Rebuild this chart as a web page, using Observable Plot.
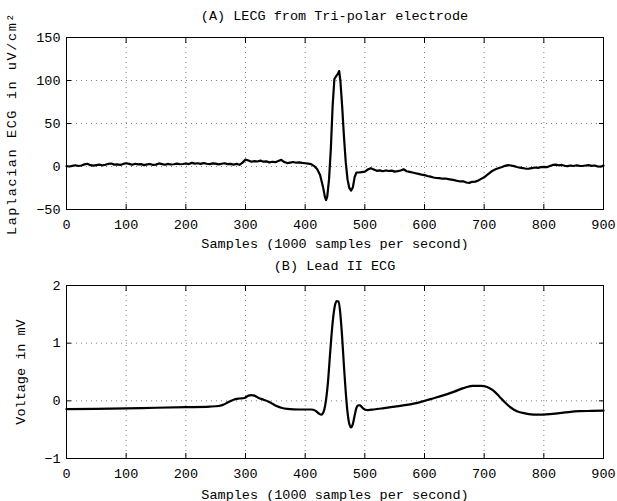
<!DOCTYPE html>
<html><head><meta charset="utf-8">
<script src="https://cdn.jsdelivr.net/npm/d3@7"></script>
<script src="https://cdn.jsdelivr.net/npm/@observablehq/plot@0.6"></script>
<style>
body{margin:0;background:#fff;}
#wrap{position:relative;width:617px;height:501px;background:#fff;font-family:"Liberation Mono","DejaVu Sans Mono",monospace;}
.ttl{position:absolute;left:66px;width:537px;text-align:center;font-size:13.5px;color:#000;z-index:2;line-height:16px;}
.pl{position:absolute;left:0;z-index:1;}
</style></head><body>
<div id="wrap">
  <div class="pl" id="p1" style="top:0"></div>
  <div class="pl" id="p2" style="top:250px"></div>
  <div class="ttl" id="t1" style="top:9px"></div>
  <div class="ttl" id="t2" style="top:259px"></div>
</div>
<script>
const titleA = "(A) LECG from Tri-polar electrode";
const titleB = "(B) Lead II ECG";
const xLabel = "Samples (1000 samples per second)";
const yLabelA = "Laplacian ECG in uV/cm²";
const yLabelB = "Voltage in mV";
const xTicks = [0,100,200,300,400,500,600,700,800,900];
const yTicksA = [-50,0,50,100,150];
const yTicksB = [-1,0,1,2];

const lecgPoints = [
[0,0.5],[5,0],[10,0.8],[15,1.5],[20,0.6],[25,1.2],[30,2.5],[35,3.2],[40,1.5],[45,1.0],
[50,1.6],[55,2.2],[60,1.4],[65,2.0],[70,3.0],[75,3.5],[80,2.2],[85,2.5],[90,1.8],[95,3.0],
[100,3.8],[105,3.0],[110,2.0],[115,3.2],[120,2.4],[125,2.8],[130,1.6],[135,2.4],[140,2.9],[145,1.8],
[150,2.2],[155,3.6],[160,2.8],[165,2.0],[170,3.0],[175,2.3],[180,2.6],[185,3.4],[190,2.6],[195,2.9],
[200,3.5],[205,2.8],[210,4.2],[215,3.4],[220,3.8],[225,3.0],[230,4.0],[235,3.2],[240,2.8],[245,3.6],
[250,3.4],[255,2.5],[260,3.2],[265,3.8],[270,2.8],[275,3.0],[280,2.2],[285,3.0],[290,2.0],[295,4.5],
[300,8.0],[305,7.0],[310,5.5],[315,6.2],[320,5.8],[325,6.8],[330,5.6],[335,6.0],[340,4.8],[345,5.5],
[350,5.0],[355,6.4],[360,7.8],[365,5.2],[370,4.0],[375,4.6],[380,5.2],[385,4.4],[390,4.8],[395,4.2],
[400,3.8],[405,3.4],[410,2.8],[415,0.5],[420,-3],[425,-10],[430,-24],[433,-35],[435,-39],[437,-35],
[440,-15],[443,20],[446,70],[449,102],[452,105],[455,108],[457,111],[459,100],[462,70],[465,35],
[468,5],[471,-15],[474,-25],[477,-28],[480,-24],[483,-12],[486,-7],[490,-7],[495,-6.5],[500,-6],
[505,-3.5],[510,-2],[515,-3.5],[520,-5],[525,-4.5],[530,-5.5],[535,-4.6],[540,-5.2],[545,-4.8],[550,-6],
[555,-5.4],[560,-4.6],[565,-3.2],[570,-5.5],[575,-6.2],[580,-7],[585,-7.8],[590,-8.6],[595,-9.4],[600,-10],
[605,-11],[610,-11.8],[615,-12.8],[620,-13.4],[625,-13.6],[630,-14.2],[635,-14],[640,-14.6],[645,-15.2],[650,-15.8],
[655,-16.8],[660,-17.4],[665,-17.2],[670,-18.6],[675,-19],[680,-17.8],[685,-17.6],[690,-16.2],[695,-14.4],[700,-12.6],
[705,-9.8],[710,-7],[715,-4.6],[720,-3],[725,-1.8],[730,-0.6],[735,0.8],[740,1.6],[745,1.2],[750,0.4],
[755,-0.6],[760,-1.4],[765,-1.8],[770,-2.6],[775,-2.4],[780,-1.8],[785,-1.2],[790,-1.6],[795,-0.8],[800,-0.4],
[805,-0.8],[810,0.6],[815,1.8],[820,2.2],[825,1.4],[830,1.8],[835,0.8],[840,0.4],[845,1.2],[850,0.6],
[855,1.4],[860,0.8],[865,0.6],[870,1.2],[875,1.6],[880,0.8],[885,1.2],[890,0.2],[895,-0.2],[900,1.0]
];

const leadPoints = [
[0,-0.145],[50,-0.14],[100,-0.13],[150,-0.12],[200,-0.11],[240,-0.1],[255,-0.09],[262,-0.07],[270,-0.03],[280,0.02],
[290,0.04],[298,0.05],[305,0.09],[310,0.1],[315,0.09],[322,0.05],[330,0.02],[338,-0.01],[345,-0.05],[352,-0.09],
[360,-0.12],[370,-0.14],[390,-0.15],[410,-0.15],[417,-0.17],[423,-0.22],[427,-0.24],[430,-0.21],[434,-0.05],[438,0.3],
[442,0.85],[446,1.35],[450,1.66],[453,1.73],[456,1.72],[459,1.5],[462,1.1],[465,0.6],[468,0.15],[471,-0.2],
[474,-0.4],[477,-0.46],[480,-0.4],[483,-0.25],[486,-0.12],[489,-0.08],[492,-0.08],[496,-0.12],[500,-0.15],[505,-0.16],
[515,-0.15],[530,-0.13],[550,-0.1],[570,-0.07],[590,-0.03],[610,0.03],[630,0.09],[650,0.16],[665,0.22],[680,0.26],
[695,0.26],[705,0.24],[715,0.18],[725,0.08],[735,-0.03],[745,-0.12],[755,-0.18],[765,-0.21],[775,-0.23],[790,-0.24],
[810,-0.23],[830,-0.21],[845,-0.19],[860,-0.18],[880,-0.175],[900,-0.17]
];

const font = '"Liberation Mono","DejaVu Sans Mono",monospace';

function panel(points, yDomain, yTicks, yLabel, opts) {
  const blank = () => "";
  const svg = Plot.plot({
    width: 617, height: opts.height,
    marginLeft: 66, marginRight: 14, marginTop: opts.mt, marginBottom: opts.mb,
    style: {fontFamily: font, fontSize: "13.5px", background: "#fff", color: "#000"},
    x: {domain: [0, 900]},
    y: {domain: yDomain},
    marks: [
      Plot.gridX(xTicks, {stroke: "#000", strokeOpacity: 0.5, strokeDasharray: "1,4"}),
      Plot.gridY(yTicks, {stroke: "#000", strokeOpacity: 0.5, strokeDasharray: "1,4"}),
      Plot.axisX(xTicks, {anchor: "bottom", tickSize: -5, tickPadding: 15, tickFormat: d => String(d),
        label: xLabel, labelAnchor: "center", labelArrow: "none", labelOffset: opts.xlo, fontSize: 13.5}),
      Plot.axisX(xTicks, {anchor: "top", tickSize: -5, tickFormat: blank, label: null}),
      Plot.axisY(yTicks, {anchor: "left", tickSize: -5, tickPadding: 11, tickFormat: d => d < 0 ? "\u2212" + Math.abs(d) : String(d),
        label: yLabel, labelAnchor: "center", labelArrow: "none", labelOffset: opts.ylo, fontSize: 13.5}),
      Plot.axisY(yTicks, {anchor: "right", tickSize: -5, tickFormat: blank, label: null}),
      Plot.lineY(points, {x: d => d[0], y: d => d[1], stroke: "#000", strokeWidth: 2.2, curve: opts.curve}),
      Plot.frame({stroke: "#000", strokeWidth: 1})
    ]
  });
  if (opts.ls) d3.select(svg).selectAll("[aria-label='y-axis label'] text").style("letter-spacing", opts.ls);
  return svg;
}

document.getElementById("t1").textContent = titleA;
document.getElementById("t2").textContent = titleB;
document.getElementById("p1").appendChild(panel(lecgPoints, [-50, 150], yTicksA, yLabelA,
  {height: 250, mt: 37, mb: 41, xlo: 38, ylo: 60, curve: "linear", ls: "1.6px"}));
document.getElementById("p2").appendChild(panel(leadPoints, [-1, 2], yTicksB, yLabelB,
  {height: 251, mt: 35, mb: 43, xlo: 40, ylo: 51, curve: "monotone-x"}));
</script>
</body></html>
